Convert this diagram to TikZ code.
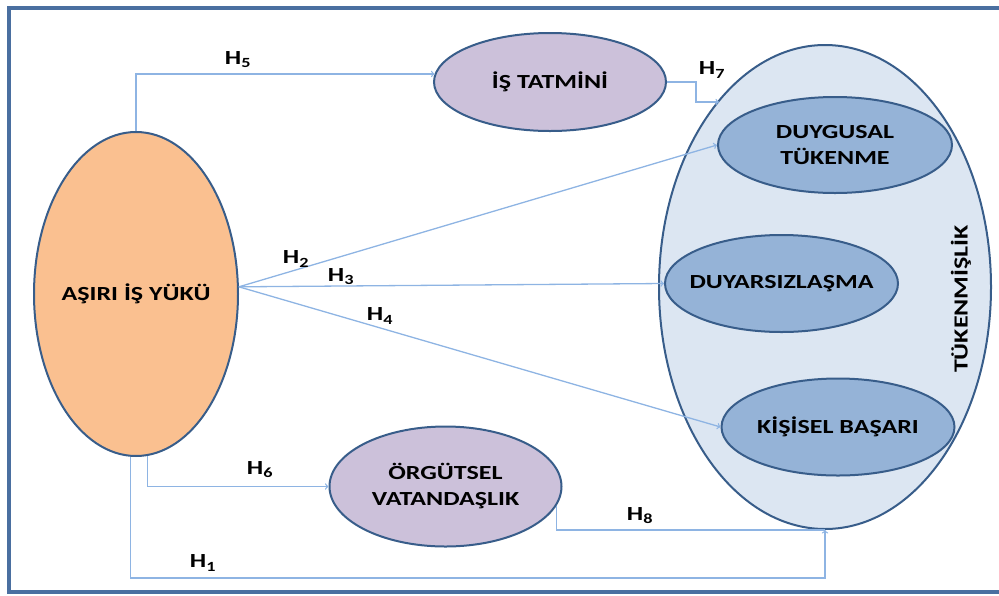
\documentclass[tikz,border=0pt]{standalone}
\usepackage{fontspec}
\setmainfont{Carlito}[FakeStretch=1.3]
\usepackage{xcolor}
\usetikzlibrary{shapes.geometric}

\definecolor{frameblue}{HTML}{4A6FA0}
\definecolor{edgeblue}{HTML}{385D8A}
\definecolor{linkblue}{HTML}{8EB4E3}
\definecolor{orangefill}{HTML}{FAC090}
\definecolor{lilac}{HTML}{CCC1DA}
\definecolor{paleblue}{HTML}{DCE6F2}
\definecolor{midblue}{HTML}{95B3D7}

\tikzset{
    construct/.style={ellipse, draw=edgeblue, line width=2pt, inner xsep=-40pt, inner ysep=0pt, align=center, font=\bfseries\fontsize{20}{26}\selectfont, text=black},
    link/.style={draw=linkblue, line width=1.3pt, ->},
    hyp/.style={font=\bfseries\fontsize{20}{24}\selectfont, text=black}
}

\begin{document}
\begin{tikzpicture}[x=1pt, y=-1pt]
    \useasboundingbox (0,0) rectangle (999,595);
    \draw[frameblue, line width=3.5pt] (9,8) rectangle (1012,592);

    \node[construct, fill=paleblue, minimum width=332pt, minimum height=484pt] (tukenmislik) at (825,287) {};
    \node[construct, fill=midblue, minimum width=234pt, minimum height=96pt] (duygusal) at (835,145) {DUYGUSAL\\TÜKENME};
    \node[construct, fill=midblue, minimum width=233pt, minimum height=97pt] (duyarsiz) at (781.5,283.5) {DUYARSIZLAŞMA};
    \node[construct, fill=midblue, minimum width=233pt, minimum height=97pt] (basari) at (838,427) {KİŞİSEL BAŞARI};
    \node[hyp, rotate=90] (tukLabel) at (961,299) {TÜKENMİŞLİK};

    \node[construct, fill=orangefill, minimum width=204pt, minimum height=324pt] (asiri) at (136,294) {AŞIRI İŞ YÜKÜ};
    \node[construct, fill=lilac, minimum width=232pt, minimum height=98pt] (tatmin) at (550,82) {İŞ TATMİNİ};
    \node[construct, fill=lilac, minimum width=232pt, minimum height=120pt] (orgutsel) at (445.5,486.5) {ÖRGÜTSEL\\VATANDAŞLIK};

    \coordinate (h7end) at (719,102);
    \coordinate (h1line) at (480,578);

    \draw[link] (asiri.north) |- (tatmin.176);
    \draw[link] (tatmin.east) -- ++(29,0) |- (h7end);
    \draw[link] (asiri.4) -- (duygusal.west);
    \draw[link] (asiri.4) -- (duyarsiz.west);
    \draw[link] (asiri.4) -- (basari.west);
    \draw[link] (asiri.-86) |- (orgutsel.west);
    \draw[link, -] (orgutsel.-10) |- (tukenmislik.south);
    \draw[link] (asiri.-92) |- (h1line) -| (tukenmislik.south);

    \node[hyp] (h5) at (238,60) {H\textsubscript{5}};
    \node[hyp] (h7) at (712,70) {H\textsubscript{7}};
    \node[hyp] (h2) at (296,259) {H\textsubscript{2}};
    \node[hyp] (h3) at (341,277) {H\textsubscript{3}};
    \node[hyp] (h4) at (380,316) {H\textsubscript{4}};
    \node[hyp] (h6) at (260,470) {H\textsubscript{6}};
    \node[hyp] (h8) at (640,516) {H\textsubscript{8}};
    \node[hyp] (h1) at (203,563) {H\textsubscript{1}};
\end{tikzpicture}
\end{document}
